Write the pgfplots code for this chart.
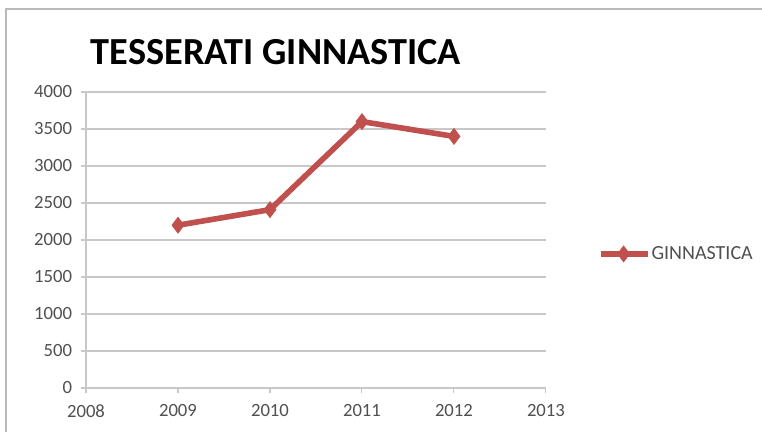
\documentclass[border=0pt]{standalone}
\usepackage{pgfplots}
\pgfplotsset{compat=1.18}
\usepackage{fontspec}
\setmainfont{Carlito}
\definecolor{exred}{RGB}{192,80,77}
\definecolor{gridg}{RGB}{200,200,200}
\definecolor{tickg}{RGB}{80,80,80}
\begin{document}
\begin{tikzpicture}
\useasboundingbox (0,0) rectangle (571.5pt,324pt);
\fill[white] (0,0) rectangle (571.5pt,324pt);
\draw[gray!55, line width=1.6pt] (4.8pt,0) -- (4.8pt,317.5pt) -- (571.5pt,317.5pt);
\node[anchor=west, font=\bfseries\fontsize{28.7}{32}\selectfont, inner sep=0pt] at (68pt,285pt) {TESSERATI GINNASTICA};
\begin{axis}[
  at={(64.5pt,33pt)}, anchor=south west,
  scale only axis, width=345pt, height=222pt,
  xmin=2008, xmax=2013, ymin=0, ymax=4000,
  xtick={2008,...,2013}, ytick={0,500,...,4000},
  /pgf/number format/.cd, 1000 sep={}, assume math mode=true, /pgfplots/.cd,
  axis x line*=bottom, axis y line*=left,
  axis line style={gridg, line width=0.8pt},
  every outer x axis line/.append style={-}, every outer y axis line/.append style={-},
  ymajorgrids, grid style={gridg, line width=0.8pt},
  tick style={gridg, line width=0.8pt},
  tick align=outside, major tick length=4pt,
  ticklabel style={font=\fontsize{14}{16}\selectfont, text=tickg},
  xticklabel style={yshift=-5pt},
  yticklabel style={xshift=-3pt},
  clip=false,
  legend style={at={(1.113,0.453)}, anchor=west, draw=none, fill=none,
     font=\fontsize{15}{17}\selectfont, text=tickg, inner sep=0pt,
     /tikz/every even column/.append style={column sep=0pt}},
  legend cell align=left,
  legend image code/.code={\draw[#1, line width=4pt] (0pt,0pt) -- (35pt,0pt); \draw[#1, mark repeat=1, mark phase=1] plot coordinates {(17pt,0pt)};},
  legend style={nodes={inner xsep=1pt}},
]
\addplot[exred, line width=4.2pt, mark=diamond*, mark size=6pt, mark options={solid, line width=0.5pt, fill=exred}]
 coordinates {(2009,2200) (2010,2410) (2011,3600) (2012,3400)};
\addlegendentry{GINNASTICA}
\end{axis}
\end{tikzpicture}
\end{document}
